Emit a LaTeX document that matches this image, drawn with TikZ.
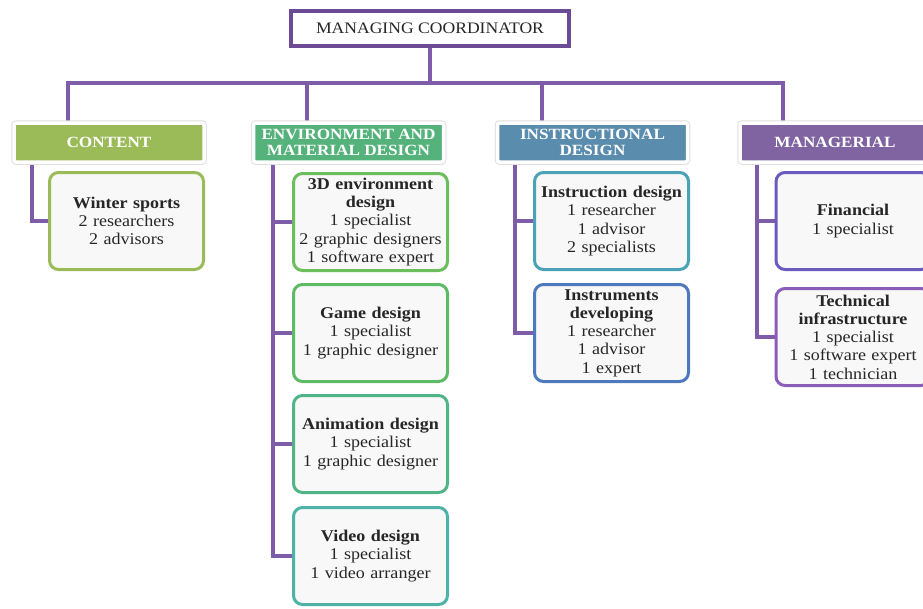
\documentclass[tikz,border=0pt]{standalone}
\usepackage{fontspec}
\setmainfont[FakeStretch=1.1]{Liberation Serif}
\usetikzlibrary{backgrounds}
\definecolor{linepurple}{HTML}{7F5CA8}
\definecolor{toppurple}{HTML}{6A4B94}
\definecolor{hcontent}{HTML}{9BBB59}
\definecolor{henv}{HTML}{55B27B}
\definecolor{hinstr}{HTML}{5A8CAE}
\definecolor{hman}{HTML}{8064A2}
\definecolor{cwinter}{HTML}{9BBB59}
\definecolor{cthreed}{HTML}{6BBE5B}
\definecolor{cgame}{HTML}{5DBA65}
\definecolor{canim}{HTML}{50B488}
\definecolor{cvideo}{HTML}{4CB3A6}
\definecolor{cinstr}{HTML}{4BA2B6}
\definecolor{cinstrum}{HTML}{4F79BD}
\definecolor{cfin}{HTML}{6A5BBE}
\definecolor{ctech}{HTML}{8A5DB8}
\definecolor{boxfill}{HTML}{F8F8F8}
\definecolor{bodytext}{HTML}{262626}
\begin{document}
\begin{tikzpicture}[x=1pt,y=-1pt,
  conn/.style={draw=linepurple, line width=4pt},
  topbox/.style={draw=toppurple, line width=4pt, fill=white, minimum width=278, minimum height=35, inner sep=0,
    text=bodytext, font=\fontsize{16}{17}\selectfont},
  hdr/.style={fill=#1, draw=white, line width=3.5pt, rounded corners=2pt, minimum width=190, minimum height=39,
    inner sep=0, text=white, align=center, font=\bfseries\fontsize{15.6}{16.5}\selectfont,
    preaction={draw=gray!25, line width=5.5pt}},
  card/.style={draw=#1, line width=3pt, fill=boxfill, rounded corners=9pt, minimum width=154, minimum height=97,
    inner sep=0, align=center, text width=150, text=bodytext, font=\fontsize{16.4}{18.3}\selectfont}]
\useasboundingbox (0,0) rectangle (923,608);

% top
\node[topbox] (top) at (430,28.5) {MANAGING COORDINATOR};

% headers
\node[hdr=hcontent] (hC) at (109,142.5) {CONTENT};
\node[hdr=henv] (hE) at (348.5,142.5) {ENVIRONMENT AND\\MATERIAL DESIGN};
\node[hdr=hinstr] (hI) at (592.5,142.5) {INSTRUCTIONAL\\DESIGN};
\node[hdr=hman] (hM) at (835,142.5) {MANAGERIAL};

% cards
\node[card=cwinter] (bW) at (126.5,221) {\textbf{Winter sports}\\2 researchers\\2 advisors};
\node[card=cthreed] (b3D) at (370.5,222) {\textbf{3D environment}\\\textbf{design}\\1 specialist\\2 graphic designers\\1 software expert};
\node[card=cgame] (bGame) at (370.5,333) {\textbf{Game design}\\1 specialist\\1 graphic designer};
\node[card=canim] (bAnim) at (370.5,444) {\textbf{Animation design}\\1 specialist\\1 graphic designer};
\node[card=cvideo] (bVideo) at (370.5,556) {\textbf{Video design}\\1 specialist\\1 video arranger};
\node[card=cinstr] (bInstr) at (611.5,221) {\textbf{Instruction design}\\1 researcher\\1 advisor\\2 specialists};
\node[card=cinstrum] (bInstrum) at (611.5,333) {\textbf{Instruments}\\\textbf{developing}\\1 researcher\\1 advisor\\1 expert};
\node[card=cfin] (bFin) at (853,221) {\textbf{Financial}\\1 specialist};
\node[card=ctech] (bTech) at (853,337) {\textbf{Technical}\\\textbf{infrastructure}\\1 specialist\\1 software expert\\1 technician};

% connector coordinates
\coordinate (bus) at (0,83);
\coordinate (dC) at (68,122);
\coordinate (dE) at (307,122);
\coordinate (dI) at (542,122);
\coordinate (dM) at (783,122);
\coordinate (sC) at (32,160);
\coordinate (sE) at (273,160);
\coordinate (sI) at (515,160);
\coordinate (sM) at (757,160);

\begin{pgfonlayer}{background}
\draw[conn] (top.south) -- (top.south |- bus) -| (dC);
\draw[conn] (top.south |- bus) -| (dE);
\draw[conn] (top.south |- bus) -| (dI);
\draw[conn] (top.south |- bus) -| (dM);
\draw[conn] (sC) |- (bW.west);
\draw[conn] (sE) |- (b3D.west);
\draw[conn] (sE) |- (bGame.west);
\draw[conn] (sE) |- (bAnim.west);
\draw[conn] (sE) |- (bVideo.west);
\draw[conn] (sI) |- (bInstr.west);
\draw[conn] (sI) |- (bInstrum.west);
\draw[conn] (sM) |- (bFin.west);
\draw[conn] (sM) |- (bTech.west);
\end{pgfonlayer}
\end{tikzpicture}
\end{document}
